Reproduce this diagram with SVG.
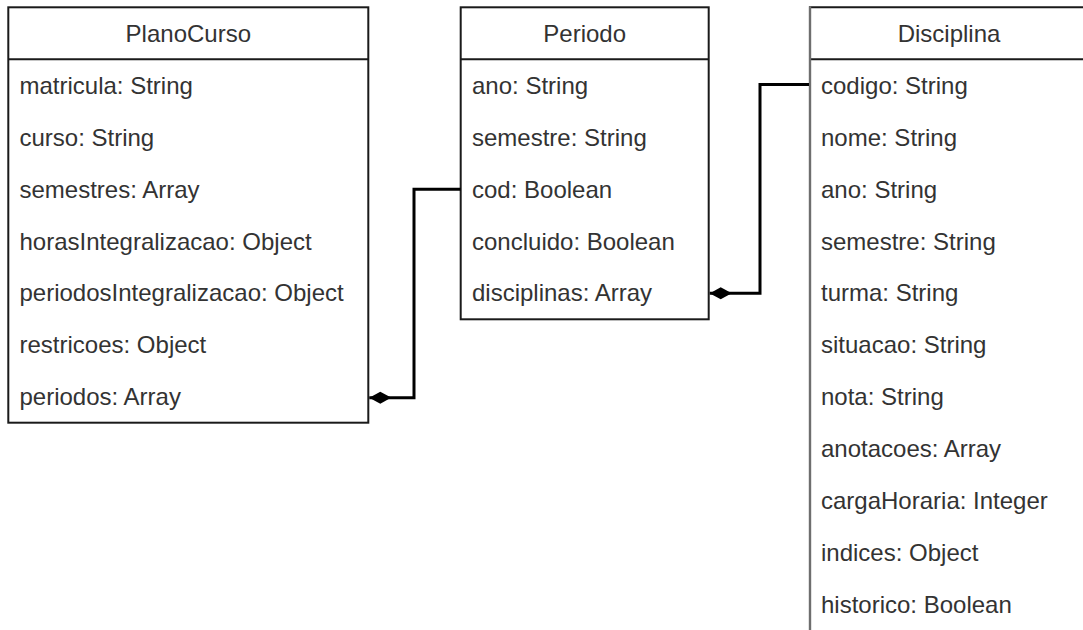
<svg xmlns="http://www.w3.org/2000/svg" width="1083" height="630" viewBox="0 0 1083 630">
  <style>
    .box { fill: #ffffff; stroke: #1a1a1a; stroke-width: 2; }
    .sep { stroke: #1a1a1a; stroke-width: 2; fill: none; }
    .title { font-family: "Liberation Sans", Arial, sans-serif; font-size: 24px; fill: #333; text-anchor: middle; }
    .attr { font-family: "Liberation Sans", Arial, sans-serif; font-size: 24px; fill: #333; }
    .edge { fill: none; stroke: #000; stroke-width: 3; }
  </style>
  <defs>
    <!-- filled diamond for composition ends; tip sits on the line end -->
    <marker id="diamond" viewBox="0 0 22 14" refX="22" refY="7" markerWidth="22" markerHeight="14" markerUnits="userSpaceOnUse" orient="auto">
      <path d="M0,7 L11,1 L22,7 L11,13 Z" fill="#000"/>
    </marker>
  </defs>

  <rect width="1083" height="630" fill="#ffffff"/>

  <!-- PlanoCurso class -->
  <g id="planocurso">
    <rect class="box" x="8.3" y="7.3" width="360" height="415.4"/>
    <line class="sep" x1="8.3" y1="59.3" x2="368.3" y2="59.3"/>
    <text class="title" x="188.3" y="42">PlanoCurso</text>
    <text class="attr" x="19.5" y="93.8">matricula: String</text>
    <text class="attr" x="19.5" y="145.7">curso: String</text>
    <text class="attr" x="19.5" y="197.6">semestres: Array</text>
    <text class="attr" x="19.5" y="249.5">horasIntegralizacao: Object</text>
    <text class="attr" x="19.5" y="301.4">periodosIntegralizacao: Object</text>
    <text class="attr" x="19.5" y="353.3">restricoes: Object</text>
    <text class="attr" x="19.5" y="405.2">periodos: Array</text>
  </g>

  <!-- Periodo class -->
  <g id="periodo">
    <rect class="box" x="460.7" y="7.3" width="248" height="312"/>
    <line class="sep" x1="460.7" y1="59.3" x2="708.7" y2="59.3"/>
    <text class="title" x="584.7" y="42">Periodo</text>
    <text class="attr" x="472" y="93.8">ano: String</text>
    <text class="attr" x="472" y="145.7">semestre: String</text>
    <text class="attr" x="472" y="197.6">cod: Boolean</text>
    <text class="attr" x="472" y="249.5">concluido: Boolean</text>
    <text class="attr" x="472" y="301.4">disciplinas: Array</text>
  </g>

  <!-- Disciplina class (continues past the page edge) -->
  <g id="disciplina">
    <rect x="810" y="7.3" width="290" height="640" fill="#ffffff" stroke="none"/>
    <line class="sep" x1="809" y1="7.3" x2="1083" y2="7.3"/>
    <line class="sep" x1="810" y1="59.3" x2="1083" y2="59.3"/>
    <line x1="810" y1="6.3" x2="810" y2="630" stroke="#6e6e6e" stroke-width="2.4"/>
    <text class="title" x="949" y="42">Disciplina</text>
    <text class="attr" x="821" y="93.8">codigo: String</text>
    <text class="attr" x="821" y="145.7">nome: String</text>
    <text class="attr" x="821" y="197.6">ano: String</text>
    <text class="attr" x="821" y="249.5">semestre: String</text>
    <text class="attr" x="821" y="301.4">turma: String</text>
    <text class="attr" x="821" y="353.3">situacao: String</text>
    <text class="attr" x="821" y="405.2">nota: String</text>
    <text class="attr" x="821" y="457.1">anotacoes: Array</text>
    <text class="attr" x="821" y="509">cargaHoraria: Integer</text>
    <text class="attr" x="821" y="560.9">indices: Object</text>
    <text class="attr" x="821" y="612.8">historico: Boolean</text>
  </g>

  <!-- Composition connectors -->
  <g id="connectors">
    <path class="edge" d="M460.7,189.3 H414 V397.7 H369.3" marker-end="url(#diamond)"/>
    <path class="edge" d="M809,84.5 H760 V293.3 H709.7" marker-end="url(#diamond)"/>
  </g>
</svg>
